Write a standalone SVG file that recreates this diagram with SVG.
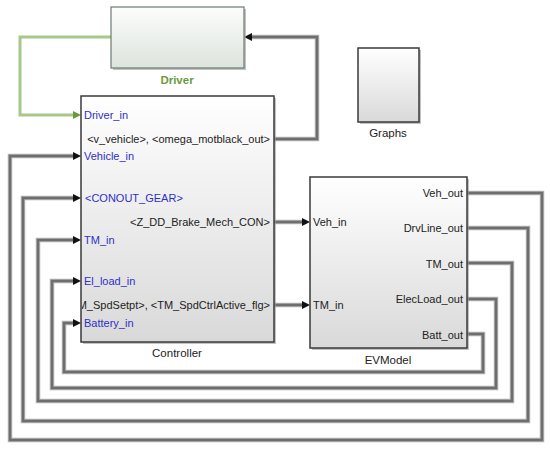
<svg xmlns="http://www.w3.org/2000/svg" width="550" height="449" viewBox="0 0 550 449">
<defs>
<linearGradient id="gFill" x1="0" y1="0" x2="0" y2="1">
<stop offset="0" stop-color="#ffffff"/>
<stop offset="1" stop-color="#d9d9d9"/>
</linearGradient>
<linearGradient id="gDriver" x1="0" y1="0" x2="0" y2="1">
<stop offset="0" stop-color="#fcfdfc"/>
<stop offset="1" stop-color="#dde3dd"/>
</linearGradient>
<marker id="arrow" markerUnits="userSpaceOnUse" markerWidth="9" markerHeight="9" refX="0" refY="4" orient="auto">
<path d="M0,0 L8,4 L0,8 z" fill="#111"/>
</marker>
<marker id="arrowG" markerUnits="userSpaceOnUse" markerWidth="9" markerHeight="9" refX="0" refY="4" orient="auto">
<path d="M0,0 L8,4 L0,8 z" fill="#6b9a3c"/>
</marker>
<clipPath id="ctrlClip"><rect x="82" y="96" width="192" height="246"/></clipPath>
</defs>
<style>
text{font-family:"Liberation Sans",Arial,sans-serif;font-size:11px;fill:#222}
.port{fill:#2f2fc8}
.lbl{font-size:11.5px;fill:#222}
.wbg{fill:none;stroke:#b4b4b4;stroke-width:4.5}
.w{fill:none;stroke:#6e6e6e;stroke-width:2.5}
.blk{stroke:#3a3a3a;stroke-width:1.5}
.shadow{fill:#9a9a9a;opacity:0.6}
</style>
<rect width="550" height="449" fill="#ffffff"/>

<g id="connectors">
<path class="wbg" d="M274,139 H317 V37 H252"/>
<path class="w" d="M274,139 H317 V37 H252" marker-end="url(#arrow)"/>
<path class="wbg" d="M274,222 H302"/>
<path class="w" d="M274,222 H302" marker-end="url(#arrow)"/>
<path class="wbg" d="M274,305 H302"/>
<path class="w" d="M274,305 H302" marker-end="url(#arrow)"/>
<path class="wbg" d="M467,193 H542 V440 H10 V156 H73"/>
<path class="w" d="M467,193 H542 V440 H10 V156 H73" marker-end="url(#arrow)"/>
<path class="wbg" d="M467,228 H528 V421 H23 V198 H73"/>
<path class="w" d="M467,228 H528 V421 H23 V198 H73" marker-end="url(#arrow)"/>
<path class="wbg" d="M467,263 H512 V401 H38 V240 H73"/>
<path class="w" d="M467,263 H512 V401 H38 V240 H73" marker-end="url(#arrow)"/>
<path class="wbg" d="M467,299 H496 V388 H52 V281 H73"/>
<path class="w" d="M467,299 H496 V388 H52 V281 H73" marker-end="url(#arrow)"/>
<path class="wbg" d="M467,334 H483 V372 H64 V323 H73"/>
<path class="w" d="M467,334 H483 V372 H64 V323 H73" marker-end="url(#arrow)"/>
<path d="M111,37 H20 V115 H73" fill="none" stroke="#a6c98a" stroke-width="3" marker-end="url(#arrowG)"/>
</g>

<g id="driver">
<rect class="shadow" x="113" y="9" width="133" height="61"/>
<rect x="111" y="7" width="133" height="61" fill="url(#gDriver)" stroke="#6f7a6f" stroke-width="1.2"/>
<text x="177" y="84" text-anchor="middle" style="font-weight:bold;fill:#6b9a3c;font-size:11.5px">Driver</text>
</g>

<g id="graphs">
<rect class="shadow" x="360" y="50" width="61" height="74"/>
<rect x="358" y="48" width="61" height="74" fill="url(#gFill)" class="blk"/>
<text class="lbl" x="388" y="137" text-anchor="middle">Graphs</text>
</g>

<g id="controller">
<rect class="shadow" x="83" y="98" width="193" height="246"/>
<rect x="81" y="96" width="193" height="246" fill="url(#gFill)" class="blk"/>
<text class="port" x="84" y="119">Driver_in</text>
<text class="port" x="84" y="160">Vehicle_in</text>
<text class="port" x="85" y="202">&lt;CONOUT_GEAR&gt;</text>
<text class="port" x="84" y="244">TM_in</text>
<text class="port" x="84" y="285">El_load_in</text>
<text class="port" x="84" y="327">Battery_in</text>
<text x="270" y="143" text-anchor="end">&lt;v_vehicle&gt;, &lt;omega_motblack_out&gt;</text>
<text x="270" y="226" text-anchor="end">&lt;Z_DD_Brake_Mech_CON&gt;</text>
<text x="270" y="309" text-anchor="end" clip-path="url(#ctrlClip)">M_SpdSetpt&gt;, &lt;TM_SpdCtrlActive_flg&gt;</text>
<text class="lbl" x="177" y="357" text-anchor="middle">Controller</text>
</g>

<g id="evmodel">
<rect class="shadow" x="312" y="179" width="157" height="171"/>
<rect x="310" y="177" width="157" height="171" fill="url(#gFill)" class="blk"/>
<text x="313" y="226">Veh_in</text>
<text x="313" y="309">TM_in</text>
<text x="463" y="197" text-anchor="end">Veh_out</text>
<text x="463" y="232" text-anchor="end">DrvLine_out</text>
<text x="463" y="268" text-anchor="end">TM_out</text>
<text x="463" y="303" text-anchor="end">ElecLoad_out</text>
<text x="463" y="339" text-anchor="end">Batt_out</text>
<text class="lbl" x="388" y="364" text-anchor="middle">EVModel</text>
</g>
</svg>
